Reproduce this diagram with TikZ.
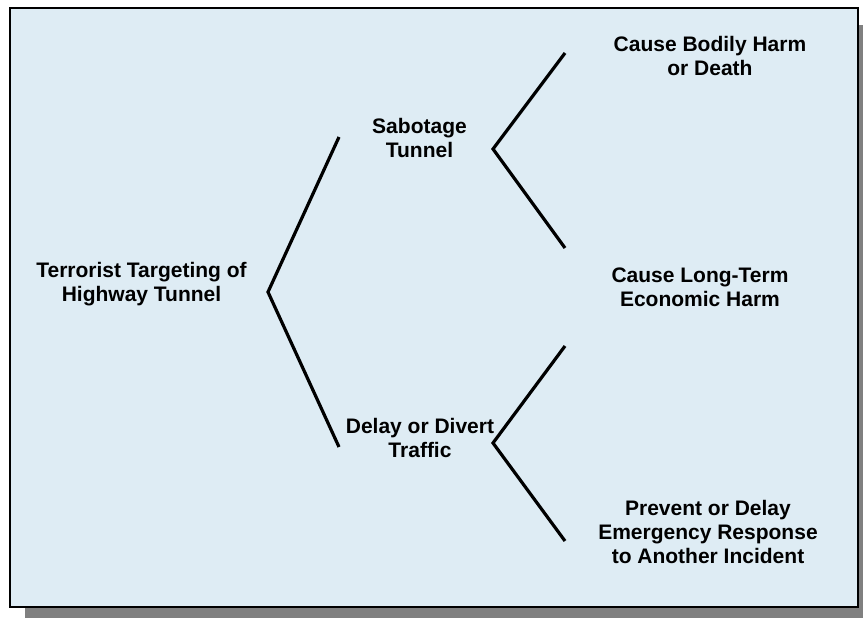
\documentclass[tikz,border=0pt]{standalone}
\usepackage{fontspec}
\setmainfont{Liberation Sans}
\definecolor{panelfill}{RGB}{222,236,244}
\definecolor{shadowgray}{RGB}{128,128,128}
\begin{document}
\begin{tikzpicture}[x=1pt,y=-1pt,
  label/.style={align=center,font=\bfseries\fontsize{21}{24}\selectfont,inner sep=0pt,anchor=center},
  branch/.style={line width=3.2pt,line join=miter,line cap=butt}]
\useasboundingbox (0,0) rectangle (863,618);
\fill[shadowgray] (25,25) rectangle (863,618);
\draw[fill=panelfill,line width=2pt] (9.5,8.5) rectangle (857.5,606.5);
% labels
\node[label] (root) at (141.5,284) {Terrorist Targeting of\\Highway Tunnel};
\node[label] (sab) at (419.5,137.5) {Sabotage\\Tunnel};
\node[label] (del) at (420,438) {Delay or Divert\\Traffic};
\node[label] (bod) at (710,55.5) {Cause Bodily Harm\\or Death};
\node[label] (eco) at (700,287.5) {Cause Long-Term\\Economic Harm};
\node[label] (pre) at (708,532) {Prevent or Delay\\Emergency Response\\to Another Incident};
% bracket coordinates
\coordinate (v0) at (268,292);
\coordinate (v0a) at (339,137);
\coordinate (v0b) at (339,447);
\coordinate (v1) at (493,149);
\coordinate (v1a) at (565,53);
\coordinate (v1b) at (565,248);
\coordinate (v2) at (493,443);
\coordinate (v2a) at (565,346);
\coordinate (v2b) at (565,541);
\draw[branch] (v0a) -- (v0) -- (v0b);
\draw[branch] (v1a) -- (v1) -- (v1b);
\draw[branch] (v2a) -- (v2) -- (v2b);
\end{tikzpicture}
\end{document}
